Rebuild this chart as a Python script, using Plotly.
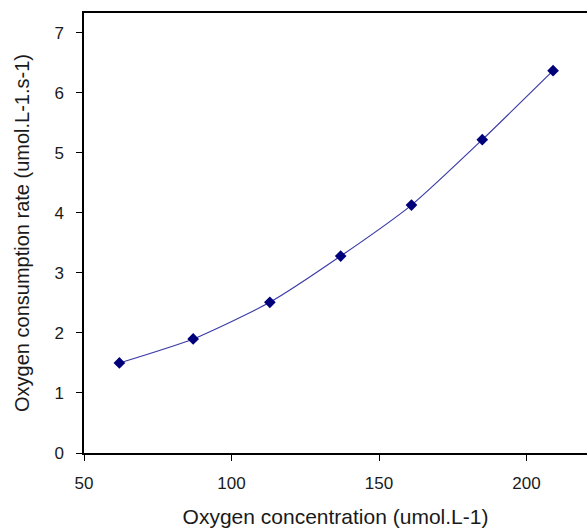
import plotly.graph_objects as go

conc = [62, 87, 113, 137, 161, 185, 209]
rate = [1.50, 1.90, 2.51, 3.28, 4.13, 5.22, 6.37]
x_ticks = [50, 100, 150, 200]
y_ticks = [0, 1, 2, 3, 4, 5, 6, 7]

fig = go.Figure()
fig.add_trace(go.Scatter(
    x=conc, y=rate, mode="lines+markers",
    line=dict(color="#3c3ca8", width=1.2, shape="spline", smoothing=0.6),
    marker=dict(symbol="diamond", size=9, color="#00007a"),
    showlegend=False,
))

font = dict(family="Liberation Sans, Arial, sans-serif", color="#1a1a1a")
fig.update_layout(
    width=587, height=528,
    margin=dict(l=84, r=0, t=13, b=75),
    paper_bgcolor="white", plot_bgcolor="white",
    font=dict(**font, size=17),
    xaxis=dict(
        range=[50, 220.5], tickvals=x_ticks, showgrid=False, zeroline=False,
        showline=True, linecolor="black", linewidth=1.5, mirror=True,
        ticks="outside", ticklen=6, tickcolor="black",
        tickfont=dict(size=17), ticklabelstandoff=8,
        title=dict(text="Oxygen concentration (umol.L-1)", font=dict(size=21), standoff=17),
    ),
    yaxis=dict(
        range=[0, 7.33], tickvals=y_ticks, showgrid=False, zeroline=False,
        showline=True, linecolor="black", linewidth=1.5,
        ticks="outside", ticklen=6, tickcolor="black",
        tickfont=dict(size=17), ticklabelstandoff=9,
        title=dict(text="Oxygen consumption rate (umol.L-1.s-1)", font=dict(size=20), standoff=19),
    ),
)
fig.write_html("out.html")
